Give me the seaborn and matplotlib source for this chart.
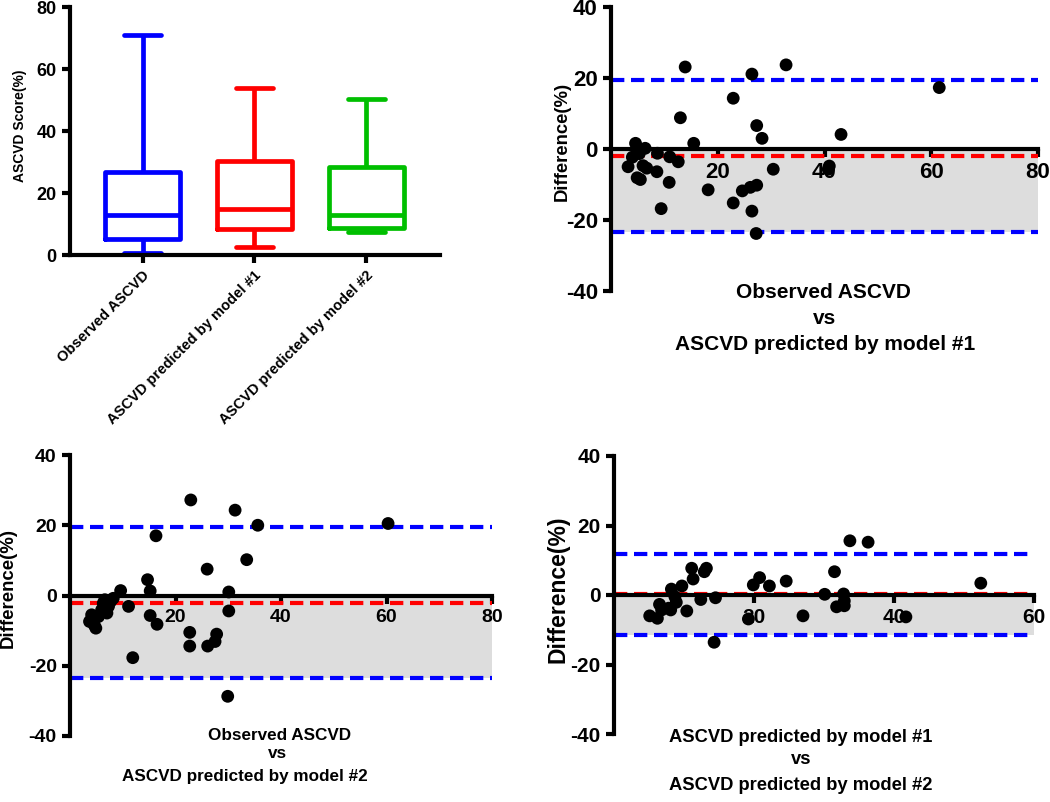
import numpy as np
import pandas as pd
import matplotlib
matplotlib.use("Agg")
import matplotlib.pyplot as plt
import seaborn as sns

# ---------------- data ----------------
groups = ["Observed ASCVD", "ASCVD predicted by model #1", "ASCVD predicted by model #2"]
# five-number summaries (min, Q1, median, Q3, max)
obs_box = [0.6, 5.2, 12.9, 26.8, 71.0]
m1_box = [2.6, 8.3, 14.8, 30.3, 54.0]
m2_box = [7.3, 8.8, 12.9, 28.3, 50.3]
box_colors = ["#0000FF", "#FF0000", "#00BF00"]

# Panel B: Observed vs model #1
ba1_mean = [3.2, 4.0, 4.6, 4.9, 5.5, 5.3, 6.4, 6.0, 6.7, 8.6, 8.7, 9.4, 10.9, 11.0,
            12.6, 13.0, 13.9, 15.5, 18.2, 22.9, 22.9, 24.6, 26.1, 26.4, 26.4, 27.2,
            27.3, 27.3, 28.3, 30.4, 32.8, 40.7, 40.9, 43.1, 61.5]
ba1_diff = [-5.0, -2.3, 1.6, -8.1, -8.6, -1.3, 0.2, -4.7, -5.4, -6.4, -1.2, -16.8, -9.4, -2.2,
            -3.6, 8.8, 23.1, 1.6, -11.5, 14.3, -15.2, -11.8, -10.8, 21.1, -17.5, -23.8,
            -10.2, 6.6, 3.0, -5.7, 23.7, -5.7, -4.8, 4.1, 17.3]
ba1_bias, ba1_upper, ba1_lower = -2.0, 19.4, -23.4
ba1_xmax = 80

# Panel C: Observed vs model #2
ba2_mean = [3.7, 4.1, 4.6, 4.9, 5.4, 6.0, 6.3, 6.6, 7.0, 7.3, 7.7, 8.2, 9.6, 11.1,
            11.9, 14.7, 15.2, 15.2, 16.3, 16.5, 22.7, 22.7, 22.9, 26.0, 26.1, 27.5,
            27.8, 30.1, 30.1, 29.9, 31.3, 33.5, 35.6, 60.3]
ba2_diff = [-7.4, -5.5, -8.4, -9.3, -6.0, -4.1, -2.2, -1.2, -5.0, -3.1, -1.7, -0.8, 1.4, -3.1,
            -17.7, 4.5, 1.3, -5.7, 17.0, -8.2, -10.5, -14.4, 27.2, 7.5, -14.4, -13.1,
            -11.0, 1.0, -4.4, -28.7, 24.3, 10.2, 20.0, 20.5]
ba2_bias, ba2_upper, ba2_lower = -2.0, 19.6, -23.4
ba2_xmax = 80

# Panel D: model #1 vs model #2
ba3_mean = [5.1, 6.2, 6.5, 6.8, 7.8, 8.1, 8.2, 8.7, 8.9, 9.7, 10.4, 11.1, 11.3, 12.4,
            12.9, 13.2, 14.3, 14.5, 19.2, 19.9, 20.8, 22.2, 24.6, 27.0, 30.1, 31.5,
            31.8, 32.8, 32.9, 32.9, 33.7, 36.3, 41.7, 52.4]
ba3_diff = [-6.0, -6.7, -2.7, -4.3, -3.8, -4.3, 1.7, -0.5, -2.1, 2.6, -4.6, 7.7, 4.6, -1.3,
            6.7, 7.7, -13.6, -0.8, -6.9, 2.9, 5.0, 2.6, 4.0, -6.0, 0.2, 6.7,
            -3.4, 0.3, -1.7, -3.1, 15.6, 15.2, -6.3, 3.4]
ba3_bias, ba3_upper, ba3_lower = 0.3, 11.7, -11.5
ba3_xmax = 60

# ---------------- style ----------------
sns.set_style("ticks")
plt.rcParams["font.family"] = ["Liberation Sans", "DejaVu Sans"]
plt.rcParams["font.weight"] = "bold"
plt.rcParams["axes.labelweight"] = "bold"
plt.rcParams["axes.unicode_minus"] = False
for k in ["text.color", "axes.labelcolor", "xtick.color", "ytick.color", "axes.edgecolor"]:
    plt.rcParams[k] = "black"

fig = plt.figure(figsize=(10.5, 8.02), dpi=100)
W, H = 1050, 802


def rect(x0, y_top, x1, y_bot):
    return [x0 / W, 1 - y_bot / H, (x1 - x0) / W, (y_bot - y_top) / H]


SPINE_W = 3.0

# ---------------- panel A: box plot ----------------
ax1 = fig.add_axes(rect(70, 7, 440, 255))
df = pd.DataFrame({
    "group": np.repeat(groups, 5),
    "score": obs_box + m1_box + m2_box,
})
sns.boxplot(data=df, x="group", y="score", hue="group", palette=box_colors,
            fill=False, whis=(0, 100), width=0.67, linewidth=3.4, legend=False,
            ax=ax1)
ax1.set_xlim(-0.65, 2.66)
ax1.set_ylim(0, 80)
ax1.set_yticks([0, 20, 40, 60, 80])
ax1.set_xlabel("")
ax1.set_ylabel("ASCVD Score(%)", fontsize=10, fontweight="bold")
ax1.yaxis.set_label_coords(-0.116, 0.52)
for s in ["top", "right"]:
    ax1.spines[s].set_visible(False)
for s in ["left", "bottom"]:
    ax1.spines[s].set_linewidth(SPINE_W)
    ax1.spines[s].set_color("black")
ax1.tick_params(axis="both", width=SPINE_W, length=6, labelsize=13, colors="black")
ax1.tick_params(axis="x", labelsize=10.5)
for lab in ax1.get_xticklabels():
    lab.set_rotation(45)
    lab.set_ha("right")
    lab.set_rotation_mode("anchor")
    lab.set_fontweight("bold")
for lab in ax1.get_yticklabels():
    lab.set_fontweight("bold")


# ---------------- Bland-Altman panels ----------------
def ba_panel(r, mean, diff, bias, upper, lower, xmax, xticks, tick_fs, ylab_fs, lab_xy):
    ax = fig.add_axes(r)
    ax.fill_between([0, xmax], lower, 0, color="#DDDDDD", lw=0, zorder=0)
    ax.hlines([upper, lower], 0, xmax, colors="#0000FF", linestyles=(0, (3.2, 1.6)),
              lw=3.0, zorder=1)
    ax.hlines([bias], 0, xmax, colors="#FF0000", linestyles=(0, (3.2, 1.6)),
              lw=3.0, zorder=1)
    sns.scatterplot(x=mean, y=diff, color="black", s=85, edgecolor="none",
                    zorder=4, ax=ax, legend=False)
    ax.set_xlim(0, xmax)
    ax.set_ylim(-40, 40)
    ax.set_yticks([-40, -20, 0, 20, 40])
    ax.set_xticks(xticks)
    ax.spines["bottom"].set_position(("data", 0))
    for s in ["top", "right"]:
        ax.spines[s].set_visible(False)
    for s in ["left", "bottom"]:
        ax.spines[s].set_linewidth(SPINE_W)
        ax.spines[s].set_color("black")
        ax.spines[s].set_zorder(3)
    ax.tick_params(axis="both", width=SPINE_W, length=6, labelsize=tick_fs, colors="black")
    for lab in ax.get_xticklabels() + ax.get_yticklabels():
        lab.set_fontweight("bold")
    ax.set_ylabel("Difference(%)", fontsize=ylab_fs, fontweight="bold")
    ax.yaxis.set_label_coords(*lab_xy)
    return ax


ax2 = ba_panel(rect(611, 7, 1038, 291), ba1_mean, ba1_diff, ba1_bias, ba1_upper,
               ba1_lower, ba1_xmax, [20, 40, 60, 80], 16, 13.3, (-0.094, 0.525))
ax3 = ba_panel(rect(70, 455, 492, 736), ba2_mean, ba2_diff, ba2_bias, ba2_upper,
               ba2_lower, ba2_xmax, [20, 40, 60, 80], 14, 13.4, (-0.126, 0.527))
ax4 = ba_panel(rect(614, 456, 1034, 734), ba3_mean, ba3_diff, ba3_bias, ba3_upper,
               ba3_lower, ba3_xmax, [20, 40, 60], 15, 16.5, (-0.107, 0.52))


def title_lines(lines, fs):
    for (x, y, txt) in lines:
        fig.text(x / W, 1 - y / H, txt, ha="center", va="center",
                 fontsize=fs, fontweight="bold", color="black")


title_lines([(823, 292, "Observed ASCVD"), (825, 318, "vs"),
             (825, 345, "ASCVD predicted by model #1")], 15)
title_lines([(280, 735, "Observed ASCVD"), (277, 754, "vs"),
             (245, 777, "ASCVD predicted by model #2")], 12.3)
title_lines([(801, 737, "ASCVD predicted by model #1"), (801, 760, "vs"),
             (801, 785, "ASCVD predicted by model #2")], 13.2)

fig.savefig("out.png", dpi=100)
